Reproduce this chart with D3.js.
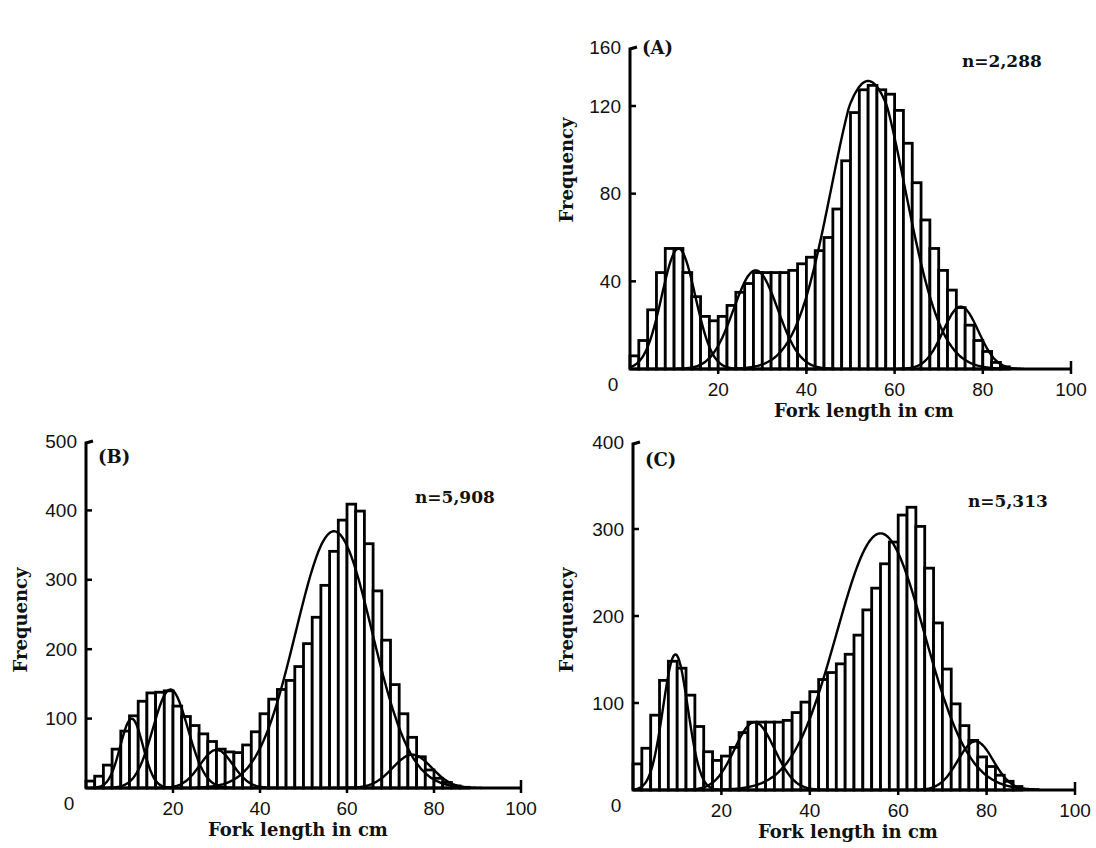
<html>
<head>
    <script src="https://d3js.org/d3.v7.min.js"></script>
    <title>Fork length frequency</title>
</head>
<style>
    body { margin: 0; background: #fff; }
    .tick-label { font: 19px "Liberation Sans", Arial, sans-serif; fill: #111; }
    .bold-serif { font-family: "DejaVu Serif", serif; font-weight: bold; fill: #111; }
</style>
<body>
<div id="chart"></div>
<script>
    // histogram bins: lower edge of each 2 cm class
    const bins = [0,2,4,6,8,10,12,14,16,18,20,22,24,26,28,30,32,34,36,38,40,42,
                  44,46,48,50,52,54,56,58,60,62,64,66,68,70,72,74,76,78,80,82,84,86];

    const countsA = [6,13,27,44,55,55,44,33,24,22,24,29,35,39,44,44,44,44,45,48,51,54,
                     60,73,95,117,131,134,131,128,118,103,85,68,55,45,36,28,20,13,8,3,1,0];
    const countsB = [10,17,33,56,82,104,125,137,138,140,118,103,90,78,67,56,52,51,62,81,107,128,
                     142,155,175,208,246,292,341,386,409,399,352,284,213,149,107,73,45,26,14,8,3,1];
    const countsC = [30,48,86,126,148,140,109,73,44,34,39,49,66,78,78,78,78,80,89,101,113,127,
                     135,145,156,178,207,232,260,285,316,325,303,255,192,139,99,74,57,38,27,17,10,4];

    // fitted normal components: mean, sd, height
    const compA = [{mu: 11, sd: 3.8, peak: 55}, {mu: 28.5, sd: 5, peak: 45},
                   {mu: 54, sd: 8.3, peak: 137}, {mu: 75, sd: 4, peak: 28.5}];
    const compB = [{mu: 10.5, sd: 2.6, peak: 100}, {mu: 19.4, sd: 4, peak: 142}, {mu: 30, sd: 3.8, peak: 55},
                   {mu: 57, sd: 8.8, peak: 370}, {mu: 75, sd: 4.5, peak: 48}];
    const compC = [{mu: 9.6, sd: 2.8, peak: 156}, {mu: 27.5, sd: 4.5, peak: 78},
                   {mu: 56, sd: 10, peak: 295}, {mu: 77.5, sd: 4, peak: 56}];

    const xTicks = [20, 40, 60, 80, 100];
    const yTicksA = [40, 80, 120, 160];
    const yTicksB = [100, 200, 300, 400, 500];
    const yTicksC = [100, 200, 300, 400];
    const labels = ["(A)", "(B)", "(C)"];
    const sampleSizes = ["n=2,288", "n=5,908", "n=5,313"];

    const svg = d3.select("#chart").append("svg")
        .attr("width", 1096)
        .attr("height", 848);

    function panel(opt) {
        const g = svg.append("g");
        const x = d3.scaleLinear().domain([0, 100]).range([opt.x0, opt.x1]);
        // the printed y axis is squeezed near its top in (A), so allow a piecewise scale
        const y = d3.scaleLinear().domain(opt.yDomain).range(opt.yRange);
        const ymax = opt.yDomain[opt.yDomain.length - 1];
        const binW = 2;

        // bars
        g.selectAll("rect.bar")
            .data(opt.counts.map((c, i) => ({start: bins[i], count: c})).filter(d => d.count > 0))
            .join("rect")
            .attr("class", "bar")
            .attr("x", d => x(d.start))
            .attr("y", d => y(d.count))
            .attr("width", d => x(d.start + binW) - x(d.start))
            .attr("height", d => y(0) - y(d.count))
            .attr("fill", "#fff")
            .attr("stroke", "#000")
            .attr("stroke-width", 2.8);

        // normal curves
        const line = d3.line().x(d => x(d[0])).y(d => y(d[1])).curve(d3.curveBasis);
        opt.comps.forEach(c => {
            const lo = Math.max(0, c.mu - 3.6 * c.sd), hi = Math.min(100, c.mu + 3.6 * c.sd);
            const pts = d3.range(lo, hi + 0.001, 0.25)
                .map(v => [v, c.peak * Math.exp(-0.5 * ((v - c.mu) / c.sd) ** 2)]);
            g.append("path")
                .attr("d", line(pts))
                .attr("fill", "none")
                .attr("stroke", "#000")
                .attr("stroke-width", 2.4);
        });

        // axes
        g.append("line")
            .attr("x1", x(0)).attr("x2", x(100))
            .attr("y1", y(0)).attr("y2", y(0))
            .attr("stroke", "#000").attr("stroke-width", 3);
        g.append("path")
            .attr("d", `M${x(0)+7},${y(ymax)}L${x(0)},${y(ymax)+2}L${x(0)},${y(0)}`)
            .attr("fill", "none").attr("stroke", "#000").attr("stroke-width", 3);

        opt.yTicks.forEach(t => {
            if (t < ymax) {
                g.append("line")
                    .attr("x1", x(0)).attr("x2", x(0) + 6)
                    .attr("y1", y(t)).attr("y2", y(t))
                    .attr("stroke", "#000").attr("stroke-width", 2.5);
            }
            g.append("text")
                .attr("class", "tick-label")
                .attr("x", x(0) - 9).attr("y", y(t))
                .attr("dy", "0.35em")
                .attr("text-anchor", "end")
                .text(t);
        });
        g.append("text")
            .attr("class", "tick-label")
            .attr("x", x(0) - 17).attr("y", y(0) + 15)
            .attr("dy", "0.35em")
            .attr("text-anchor", "middle")
            .text(0);

        xTicks.forEach(t => {
            g.append("line")
                .attr("x1", x(t)).attr("x2", x(t))
                .attr("y1", t === 100 ? y(0) - 8 : y(0)).attr("y2", y(0) + 5)
                .attr("stroke", "#000").attr("stroke-width", 2.5);
            g.append("text")
                .attr("class", "tick-label")
                .attr("x", x(t)).attr("y", y(0) + 20)
                .attr("dy", "0.35em")
                .attr("text-anchor", "middle")
                .text(t);
        });

        g.append("text")
            .attr("class", "bold-serif")
            .attr("x", opt.titleX).attr("y", y(0) + 48)
            .attr("text-anchor", "middle")
            .style("font-size", "18px")
            .text("Fork length in cm");

        g.append("text")
            .attr("class", "bold-serif")
            .attr("transform", `translate(${opt.freqX},${opt.freqY}) rotate(-90)`)
            .attr("text-anchor", "middle")
            .style("font-size", "18px")
            .text("Frequency");

        g.append("text")
            .attr("class", "bold-serif")
            .attr("x", x(0) + 12).attr("y", opt.labelY)
            .style("font-size", "18px")
            .text(opt.label);

        g.append("text")
            .attr("class", "bold-serif")
            .attr("x", opt.nX).attr("y", opt.nY)
            .style("font-size", "17px")
            .text(opt.n);
    }

    panel({x0: 630, x1: 1071, yDomain: [0, 120, 160], yRange: [369, 106, 47], counts: countsA, comps: compA,
           yTicks: yTicksA, label: labels[0], labelY: 54, n: sampleSizes[0], nX: 962, nY: 67,
           titleX: 864, freqX: 573, freqY: 170});
    panel({x0: 86, x1: 521, yDomain: [0, 500], yRange: [788, 441], counts: countsB, comps: compB,
           yTicks: yTicksB, label: labels[1], labelY: 463, n: sampleSizes[1], nX: 415, nY: 503,
           titleX: 298, freqX: 27, freqY: 620});
    panel({x0: 633, x1: 1075, yDomain: [0, 400], yRange: [790, 442], counts: countsC, comps: compC,
           yTicks: yTicksC, label: labels[2], labelY: 466, n: sampleSizes[2], nX: 968, nY: 507,
           titleX: 848, freqX: 573, freqY: 620});
</script>
</body>
</html>
